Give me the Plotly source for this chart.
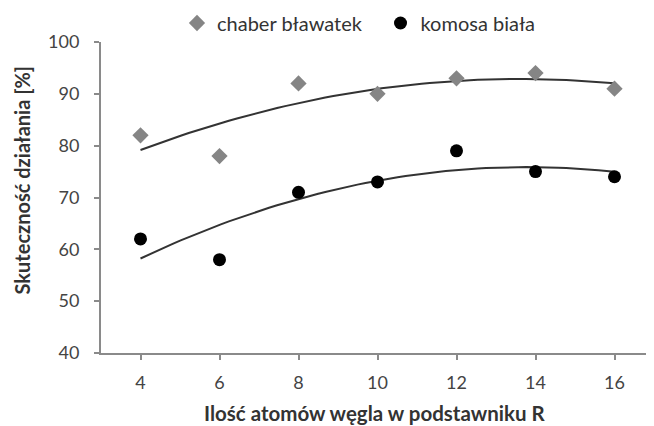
import numpy as np
import plotly.graph_objects as go

x_vals = [4, 6, 8, 10, 12, 14, 16]
chaber = [82, 78, 92, 90, 93, 94, 91]
komosa = [62, 58, 71, 73, 79, 75, 74]
x_ticks = [4, 6, 8, 10, 12, 14, 16]
y_ticks = [40, 50, 60, 70, 80, 90, 100]

def trend(x, y):
    c = np.polyfit(x, y, 2)
    xs = np.linspace(min(x), max(x), 60)
    return xs, np.polyval(c, xs)

FONT = "Lato"
fig = go.Figure()

for ys in (chaber, komosa):
    tx, ty = trend(x_vals, ys)
    fig.add_trace(go.Scatter(x=tx, y=ty, mode="lines", showlegend=False,
                             line=dict(color="#333333", width=2), hoverinfo="skip"))

fig.add_trace(go.Scatter(x=x_vals, y=chaber, mode="markers", name="chaber bławatek",
                         legend="legend",
                         marker=dict(symbol="diamond", size=12.5, color="#858585")))
fig.add_trace(go.Scatter(x=x_vals, y=komosa, mode="markers", name="komosa biała",
                         legend="legend2",
                         marker=dict(symbol="circle", size=13, color="#000000")))

leg_common = dict(orientation="h", xanchor="left", yref="container", xref="container",
                  y=0.9648, yanchor="middle", font=dict(size=20, color="#333333"),
                  itemwidth=30, bgcolor="rgba(0,0,0,0)")

fig.update_layout(
    width=654, height=426,
    margin=dict(l=93, r=8, t=34, b=81, autoexpand=False),
    plot_bgcolor="white", paper_bgcolor="white",
    font=dict(family=FONT, size=14, color="#333333"),
    legend=dict(x=0.2584, **leg_common),
    legend2=dict(x=0.5696, **leg_common),
    annotations=[
        dict(text="<b>Ilość atomów węgla w podstawniku R</b>", xref="paper", yref="paper",
             x=0.4946, y=-0.1929, xanchor="center", yanchor="middle", showarrow=False,
             font=dict(size=20.5, color="#333333")),
        dict(text="<b>Skuteczność działania [%]</b>", xref="paper", yref="paper",
             x=-0.142, y=0.5563, xanchor="center", yanchor="middle", showarrow=False,
             textangle=-90, font=dict(size=20, color="#333333")),
    ],
)
fig.update_xaxes(range=[3, 17], tickvals=x_ticks, showgrid=False, zeroline=False,
                 showline=True, linecolor="#8a8a8a", linewidth=2, automargin=False,
                 ticks="outside", ticklen=5, tickcolor="#8a8a8a", tickwidth=1.5,
                 ticklabelstandoff=7, tickfont=dict(size=18, color="#444444"))
fig.update_yaxes(range=[40, 100], tickvals=y_ticks, showgrid=False, zeroline=False,
                 showline=True, linecolor="#8a8a8a", linewidth=2, automargin=False,
                 ticks="outside", ticklen=5, tickcolor="#8a8a8a", tickwidth=1.5,
                 ticklabelstandoff=11, tickfont=dict(size=18, color="#444444"))

fig.write_html("out.html")
